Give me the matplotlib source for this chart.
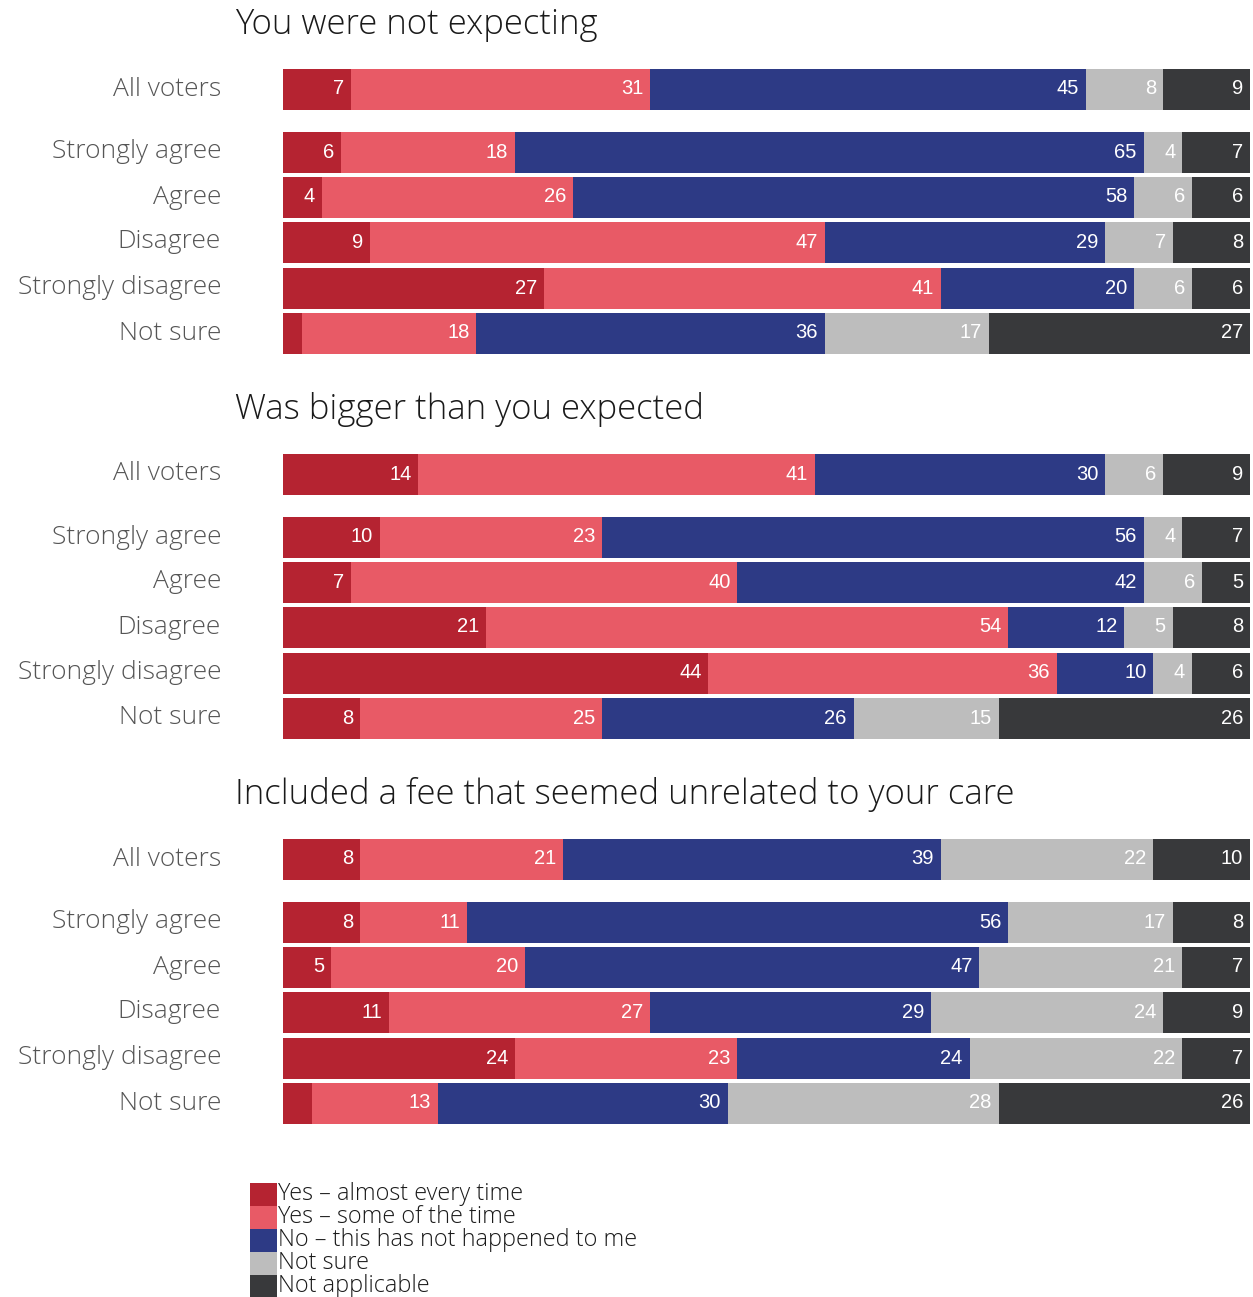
import matplotlib
matplotlib.use("Agg")
import matplotlib.pyplot as plt
from matplotlib.patches import Rectangle
import numpy as np

# survey answers, percent of respondents
rows = ["All voters", "Strongly agree", "Agree", "Disagree", "Strongly disagree", "Not sure"]
answers = ["Yes \u2013 almost every time", "Yes \u2013 some of the time",
           "No \u2013 this has not happened to me", "Not sure", "Not applicable"]
titles = ["You were not expecting", "Was bigger than you expected",
          "Included a fee that seemed unrelated to your care"]

not_expecting = [
    [7, 31, 45, 8, 9],
    [6, 18, 65, 4, 7],
    [4, 26, 58, 6, 6],
    [9, 47, 29, 7, 8],
    [27, 41, 20, 6, 6],
    [2, 18, 36, 17, 27],
]
bigger = [
    [14, 41, 30, 6, 9],
    [10, 23, 56, 4, 7],
    [7, 40, 42, 6, 5],
    [21, 54, 12, 5, 8],
    [44, 36, 10, 4, 6],
    [8, 25, 26, 15, 26],
]
unrelated_fee = [
    [8, 21, 39, 22, 10],
    [8, 11, 56, 17, 8],
    [5, 20, 47, 21, 7],
    [11, 27, 29, 24, 9],
    [24, 23, 24, 22, 7],
    [3, 13, 30, 28, 26],
]
panels = [not_expecting, bigger, unrelated_fee]

colors = ["#b52331", "#e85a66", "#2d3a85", "#bdbdbd", "#38393b"]

W, H = 1253, 1297
fig = plt.figure(figsize=(W / 100, H / 100), dpi=100)
fig.patch.set_facecolor("white")

x0, x1 = 283, 1250
ax = fig.add_axes([x0 / W, 0, (x1 - x0) / W, 1])
ax.set_xlim(0, 100)
ax.set_ylim(H, 0)
ax.axis("off")

row_offsets = [0, 63, 108, 153, 199, 244]
label_font = ["Open Sans", "DejaVu Sans"]
num_font = ["Liberation Sans", "DejaVu Sans"]

for p, data in enumerate(panels):
    base = 89 + 385 * p
    fig.text(235 / W, 1 - (base - 64) / H, titles[p], ha="left", va="center",
             fontsize=25, family=label_font, weight="light", color="#1a1a1a")
    for r, vals in enumerate(data):
        yc = base + row_offsets[r]
        fig.text(221 / W, 1 - yc / H, rows[r], ha="right", va="center",
                 fontsize=19, family=label_font, weight="light", color="#555555")
        left = np.concatenate([[0], np.cumsum(vals)[:-1]])
        ax.barh(yc, vals, left=left, height=41, color=colors, linewidth=0)
        for v, l in zip(vals, left):
            if v <= 3:
                continue
            ax.text(l + v - 0.7, yc, str(v), ha="right", va="center",
                    fontsize=14.5, family=num_font, color="white")

# legend block
for i, (name, c) in enumerate(zip(answers, colors)):
    yc = 1194 + 23 * i
    fig.add_artist(Rectangle((250 / W, 1 - (yc + 11.5) / H), 27 / W, 23 / H,
                             transform=fig.transFigure, facecolor=c, edgecolor="none"))
    fig.text(278 / W, 1 - yc / H, name, ha="left", va="center",
             fontsize=16.8, family=label_font, weight="light", color="#1a1a1a")

fig.savefig("out.png", dpi=100, facecolor="white")
